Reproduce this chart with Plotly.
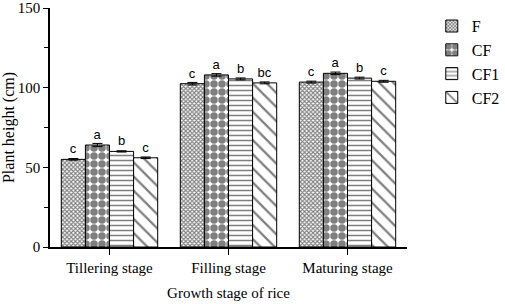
import plotly.graph_objects as go

stages = ["Tillering stage", "Filling stage", "Maturing stage"]
series = ["F", "CF", "CF1", "CF2"]
F_vals = [55.0, 102.5, 103.5]
CF_vals = [64.0, 108.0, 109.0]
CF1_vals = [60.0, 105.5, 106.0]
CF2_vals = [56.0, 103.0, 104.0]
F_err = [0.5, 0.8, 0.6]
CF_err = [1.0, 0.8, 0.8]
CF1_err = [0.4, 0.6, 0.6]
CF2_err = [0.5, 0.6, 0.6]
F_sig = ["c", "c", "c"]
CF_sig = ["a", "a", "a"]
CF1_sig = ["b", "b", "b"]
CF2_sig = ["c", "bc", "c"]

values = [F_vals, CF_vals, CF1_vals, CF2_vals]
errors = [F_err, CF_err, CF1_err, CF2_err]
sigs = [F_sig, CF_sig, CF1_sig, CF2_sig]
patterns = [
    dict(shape="x", size=3, solidity=0.6, fgcolor="black", bgcolor="white"),
    dict(shape=".", size=8, solidity=0.7, fgcolor="black", bgcolor="white"),
    dict(shape="-", size=5, solidity=0.3, fgcolor="black", bgcolor="white"),
    dict(shape="\\", size=10, solidity=0.22, fgcolor="black", bgcolor="white"),
]

fig = go.Figure()
for name, v, e, s, p in zip(series, values, errors, sigs, patterns):
    fig.add_trace(go.Bar(
        x=stages, y=v, name=name,
        marker=dict(color="white", line=dict(color="black", width=1), pattern=p),
        error_y=dict(type="data", array=e, color="black", thickness=1, width=5),
        text=s, textposition="outside",
        textfont=dict(family="Liberation Sans, Arial", size=13, color="black"),
        cliponaxis=False,
    ))

fig.update_layout(
    width=505, height=304,
    margin=dict(l=50, r=98, t=8, b=57),
    plot_bgcolor="white", paper_bgcolor="white",
    barmode="group", bargap=0.19, bargroupgap=0,
    font=dict(family="Liberation Serif, Times New Roman", size=15, color="black"),
    legend=dict(xref="container", yref="container", x=0.855, y=0.97,
                xanchor="left", yanchor="top",
                font=dict(family="Liberation Serif", size=16),
                tracegroupgap=12, itemwidth=30),
)
fig.update_xaxes(
    automargin=False,
    showline=True, linecolor="black", linewidth=2,
    ticks="outside", ticklen=6, tickcolor="black", tickwidth=1,
    range=[-0.5, 2.5],
    title=dict(text="Growth stage of rice", standoff=12,
               font=dict(family="Liberation Serif", size=15)),
    tickfont=dict(family="Liberation Serif", size=15),
)
fig.update_yaxes(
    automargin=False,
    range=[0, 150], showgrid=False, zeroline=False,
    showline=True, linecolor="black", linewidth=1.5,
    ticks="outside", ticklen=5, tickcolor="black", tickwidth=1,
    tickvals=[0, 50, 100, 150],
    minor=dict(tickvals=[25, 75, 125], ticks="outside", ticklen=4, tickcolor="black"),
    title=dict(text="Plant height (cm)", standoff=8,
               font=dict(family="Liberation Serif", size=16)),
    tickfont=dict(family="Liberation Serif", size=15),
)

fig.write_html(
    "out.html",
    config={"displayModeBar": False},
    post_script="document.body.style.margin='0';document.body.style.padding='0';document.body.style.overflow='hidden';",
)
